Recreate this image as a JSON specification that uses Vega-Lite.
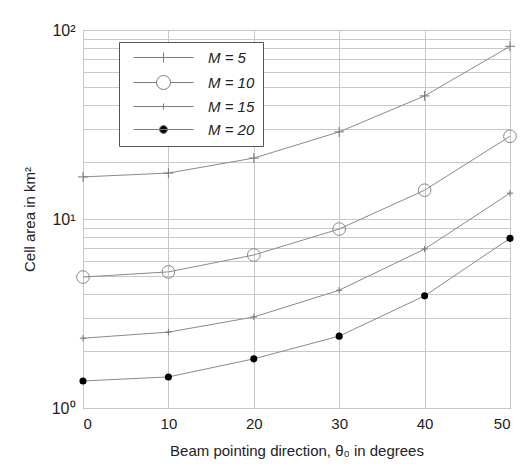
{
  "$schema": "https://vega.github.io/schema/vega-lite/v6.json",
  "width": 427,
  "height": 378,
  "autosize": {"type": "none"},
  "padding": {"left": 83, "top": 30, "right": 10, "bottom": 58},
  "background": "white",
  "config": {
    "font": "Liberation Sans",
    "view": {"stroke": "#555", "strokeWidth": 1},
    "axis": {"labelFont": "Liberation Sans", "titleFont": "Liberation Sans", "labelColor": "#222", "titleColor": "#222", "titleFontWeight": "normal", "domain": false, "ticks": false, "gridColor": "#c8c8c8", "gridWidth": 1}
  },
  "data": {"values": [
    {"theta": 0, "area": 16.7, "M": "M = 5"},
    {"theta": 10, "area": 17.5, "M": "M = 5"},
    {"theta": 20, "area": 21, "M": "M = 5"},
    {"theta": 30, "area": 28.9, "M": "M = 5"},
    {"theta": 40, "area": 44.8, "M": "M = 5"},
    {"theta": 50, "area": 82, "M": "M = 5"},
    {"theta": 0, "area": 4.93, "M": "M = 10"},
    {"theta": 10, "area": 5.25, "M": "M = 10"},
    {"theta": 20, "area": 6.45, "M": "M = 10"},
    {"theta": 30, "area": 8.85, "M": "M = 10"},
    {"theta": 40, "area": 14.2, "M": "M = 10"},
    {"theta": 50, "area": 27.4, "M": "M = 10"},
    {"theta": 0, "area": 2.34, "M": "M = 15"},
    {"theta": 10, "area": 2.52, "M": "M = 15"},
    {"theta": 20, "area": 3.03, "M": "M = 15"},
    {"theta": 30, "area": 4.2, "M": "M = 15"},
    {"theta": 40, "area": 6.93, "M": "M = 15"},
    {"theta": 50, "area": 13.7, "M": "M = 15"},
    {"theta": 0, "area": 1.39, "M": "M = 20"},
    {"theta": 10, "area": 1.46, "M": "M = 20"},
    {"theta": 20, "area": 1.82, "M": "M = 20"},
    {"theta": 30, "area": 2.4, "M": "M = 20"},
    {"theta": 40, "area": 3.92, "M": "M = 20"},
    {"theta": 50, "area": 7.9, "M": "M = 20"}
  ]},
  "layer": [
    {
      "mark": {"type": "rule", "opacity": 0},
      "encoding": {
        "x": {"field": "theta", "type": "quantitative", "scale": {"domain": [0, 50]},
              "axis": {"values": [0, 10, 20, 30, 40, 50], "grid": true, "title": "Beam pointing direction, θ₀ in degrees", "labelFontSize": 15, "titleFontSize": 15, "labelPadding": 8, "titlePadding": 12}},
        "y": {"field": "area", "type": "quantitative", "scale": {"type": "log", "domain": [1, 100]},
              "axis": {"values": [1, 2, 3, 4, 5, 6, 7, 8, 9, 10, 20, 30, 40, 50, 60, 70, 80, 90, 100], "grid": true,
                       "labelExpr": "datum.value == 1 ? '10⁰' : datum.value == 10 ? '10¹' : datum.value == 100 ? '10²' : ''",
                       "labelFontSize": 16, "labelPadding": 8, "title": "Cell area in km²", "titleFontSize": 15, "titlePadding": 14}}
      }
    },
    {
      "mark": {"type": "line", "color": "#8a8a8a", "strokeWidth": 1},
      "encoding": {
        "x": {"field": "theta", "type": "quantitative"},
        "y": {"field": "area", "type": "quantitative"},
        "detail": {"field": "M"}
      }
    },
    {
      "transform": [{"filter": "datum.M == 'M = 5'"}],
      "mark": {"type": "point", "shape": "M-1,0H1M0,-1V1", "size": 100, "filled": false, "stroke": "#777", "strokeWidth": 1, "opacity": 1},
      "encoding": {"x": {"field": "theta", "type": "quantitative"}, "y": {"field": "area", "type": "quantitative"}}
    },
    {
      "transform": [{"filter": "datum.M == 'M = 10'"}],
      "mark": {"type": "point", "shape": "circle", "size": 160, "filled": false, "stroke": "#888", "strokeWidth": 1, "opacity": 1},
      "encoding": {"x": {"field": "theta", "type": "quantitative"}, "y": {"field": "area", "type": "quantitative"}}
    },
    {
      "transform": [{"filter": "datum.M == 'M = 15'"}],
      "mark": {"type": "point", "shape": "M-1,0H1M0,-1V1", "size": 40, "filled": false, "stroke": "#777", "strokeWidth": 1, "opacity": 1},
      "encoding": {"x": {"field": "theta", "type": "quantitative"}, "y": {"field": "area", "type": "quantitative"}}
    },
    {
      "transform": [{"filter": "datum.M == 'M = 20'"}],
      "mark": {"type": "point", "shape": "circle", "size": 50, "filled": true, "color": "black", "opacity": 1},
      "encoding": {"x": {"field": "theta", "type": "quantitative"}, "y": {"field": "area", "type": "quantitative"}}
    },
    {
      "mark": {"type": "point", "opacity": 0, "strokeWidth": 1},
      "encoding": {
        "x": {"field": "theta", "type": "quantitative"},
        "y": {"field": "area", "type": "quantitative"},
        "shape": {"field": "M", "type": "nominal",
          "scale": {"domain": ["M = 5", "M = 10", "M = 15", "M = 20"],
                    "range": ["M-6,0H6M0,-1V1",
                              "M-6,0H-1.4M1.4,0H6M1.4,0L1.293,0.536L0.99,0.99L0.536,1.293L0,1.4L-0.536,1.293L-0.99,0.99L-1.293,0.536L-1.4,0L-1.293,-0.536L-0.99,-0.99L-0.536,-1.293L0,-1.4L0.536,-1.293L0.99,-0.99L1.293,-0.536Z",
                              "M-6,0H6M0,-0.6V0.6",
                              "M-6,0H6M0.8,0L0.739,0.306L0.566,0.566L0.306,0.739L0,0.8L-0.306,0.739L-0.566,0.566L-0.739,0.306L-0.8,0L-0.739,-0.306L-0.566,-0.566L-0.306,-0.739L0,-0.8L0.306,-0.739L0.566,-0.566L0.739,-0.306Z"]},
          "legend": {"title": null, "orient": "none", "legendX": 36, "legendY": 12, "direction": "vertical",
            "fillColor": "white", "strokeColor": "#555", "padding": 8, "rowPadding": 7,
            "symbolSize": 100, "symbolOpacity": 1, "symbolStrokeWidth": 1,
            "labelFontSize": 15, "labelFontStyle": "italic", "labelColor": "#222", "labelOffset": 37, "symbolOffset": 29}},
        "fill": {"field": "M", "type": "nominal",
          "scale": {"domain": ["M = 5", "M = 10", "M = 15", "M = 20"], "range": ["transparent", "transparent", "transparent", "black"]}},
        "stroke": {"field": "M", "type": "nominal",
          "scale": {"domain": ["M = 5", "M = 10", "M = 15", "M = 20"], "range": ["#7a7a7a", "#7a7a7a", "#7a7a7a", "#7a7a7a"]}}
      }
    }
  ]
}
